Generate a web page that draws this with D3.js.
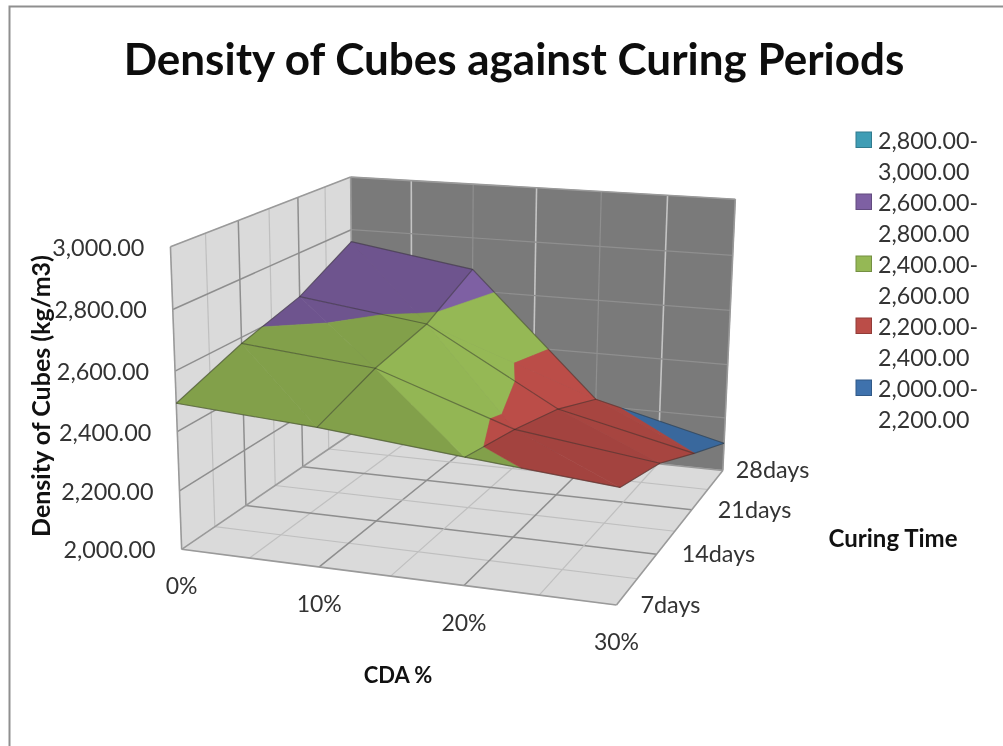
<!DOCTYPE html>
<html><head><meta charset="utf-8"><script src="https://cdn.jsdelivr.net/npm/d3@7"></script>
<style>html,body{margin:0;padding:0;background:#fff}svg{display:block;font-family:Lato,"Open Sans",sans-serif;filter:blur(.55px)}</style></head>
<body><svg id="c" width="1003" height="746"></svg>
<script>
const cdaLabels=["0%","10%","20%","30%"];
const cdaValues=[0,10,20,30];
const curingLabels=["7days","14days","21days","28days"];
const curingValues=[7,14,21,28];
const densityTicks=[2000,2200,2400,2600,2800,3000];
const density7days=[2494,2462,2416,2373];
const density14days=[2579,2535,2372,2308];
const density21days=[2641,2579,2314,2203];
const density28days=[2754,2681,2225,2104];
const bandNames=["2,800.00-|3,000.00","2,600.00-|2,800.00","2,400.00-|2,600.00","2,200.00-|2,400.00","2,000.00-|2,200.00"];
const bandColors=["#3f9db5","#7e60a3","#95b855","#bb4d48","#3f72ad"];
const bandLow=[2800,2600,2400,2200,2000];
const diagonalFlipCells=["1-2"];
const grid=[density7days,density14days,density21days,density28days];

const xN=d3.scaleLinear().domain([0,30]).range([0,1]);
const yN=d3.scaleLinear().domain([7,28]).range([0,1]);
const zN=d3.scaleLinear().domain([2000,3000]).range([0,1]);
// projection anchors: box corners [u,v,w,px,py]
const anchors=[[0,0,0,182,549],[1,0,0,615,605],[0,1,0,353,433],[1,1,0,724,470],[0,0,1,170,245],[1,0,1,628,282],[0,1,1,351,178],[1,1,1,734,198]];
function solveCamera(){
  const A=[],b=[];
  anchors.forEach(([u,v,w,x,y])=>{
    A.push([u,v,w,1,0,0,0,0,-x*u,-x*v,-x*w]);b.push(x);
    A.push([0,0,0,0,u,v,w,1,-y*u,-y*v,-y*w]);b.push(y);
  });
  const n=11,M=d3.range(n).map(i=>d3.range(n+1).map(j=>j<n?d3.sum(A,r=>r[i]*r[j]):d3.sum(A,(r,k)=>r[i]*b[k])));
  for(let i=0;i<n;i++){let p=i;for(let k=i+1;k<n;k++)if(Math.abs(M[k][i])>Math.abs(M[p][i]))p=k;[M[i],M[p]]=[M[p],M[i]];
    for(let k=0;k<n;k++)if(k!==i){const f=M[k][i]/M[i][i];for(let j=i;j<=n;j++)M[k][j]-=f*M[i][j];}}
  return M.map((r,i)=>r[n]/r[i]);
}
const P=solveCamera();
function proj(u,v,w){const d=P[8]*u+P[9]*v+P[10]*w+1;return [(P[0]*u+P[1]*v+P[2]*w+P[3])/d,(P[4]*u+P[5]*v+P[6]*w+P[7])/d];}
const pt=(c,d,z)=>proj(xN(c),yN(d),zN(z));

const svg=d3.select("#c");
const line=d3.line();
svg.append("path").attr("d","M9.5,746V6.5H1003").attr("fill","none").attr("stroke","#8f8f8f").attr("stroke-width",2);
const poly=(pts,fill)=>svg.append("path").attr("d",line(pts)+"Z").attr("fill",fill).attr("stroke",fill).attr("stroke-width",.6).attr("stroke-linejoin","round");
poly([proj(0,0,0),proj(0,1,0),proj(0,1,1),proj(0,0,1)],"#dadada");
poly([proj(0,1,0),proj(1,1,0),proj(1,1,1),proj(0,1,1)],"#7a7a7a");
poly([proj(0,0,0),proj(1,0,0),proj(1,1,0),proj(0,1,0)],"#dadada");
const seg=(a,b,col,w)=>svg.append("path").attr("d",line([a,b])).attr("stroke",col).attr("stroke-width",w).attr("fill","none");
const sixths=d3.range(1,6).map(k=>k/6);
sixths.forEach((t,k)=>{const major=k%2===1;
  seg(proj(t,0,0),proj(t,1,0),major?"#8e8e8e":"#bfbfbf",major?1.5:1.2);
  seg(proj(0,t,0),proj(1,t,0),major?"#8e8e8e":"#bfbfbf",major?1.5:1.2);
  seg(proj(0,t,0),proj(0,t,1),major?"#8e8e8e":"#bfbfbf",major?1.5:1.2);
  seg(proj(t,1,0),proj(t,1,1),major?"#8f8f8f":"#c4c4c4",major?1.2:1.6);
});
densityTicks.slice(1,-1).forEach(z=>{const w=zN(z);
  seg(proj(0,0,w),proj(0,1,w),"#8e8e8e",1.5);
  seg(proj(0,1,w),proj(1,1,w),"#8f8f8f",1.2);
});
[[[0,0,0],[1,0,0]],[[0,0,0],[0,1,0]],[[1,0,0],[1,1,0]],[[0,1,0],[1,1,0]],[[0,0,0],[0,0,1]],[[0,0,1],[0,1,1]],[[0,1,1],[1,1,1]],[[1,1,1],[1,1,0]],[[0,1,0],[0,1,1]]]
 .forEach(([a,b])=>seg(proj(...a),proj(...b),"#9a9a9a",1.6));

// surface
function clip(tri,lo,hi){
  const cut=(pts,keep,lev)=>{const o=[];pts.forEach((p,i)=>{const q=pts[(i+1)%pts.length];const kp=keep(p[2]),kq=keep(q[2]);
    if(kp)o.push(p);if(kp!==kq){const t=(lev-p[2])/(q[2]-p[2]);o.push([p[0]+t*(q[0]-p[0]),p[1]+t*(q[1]-p[1]),lev]);}});return o;};
  let r=cut(tri,z=>z>=lo,lo);if(r.length)r=cut(r,z=>z<=hi,hi);return r;
}
const shade=d3.scaleLinear().domain([100,170]).range([.87,1]).clamp(true);
for(let j=curingValues.length-2;j>=0;j--)for(let i=0;i<cdaValues.length-1;i++){
  const V=(a,b)=>[cdaValues[a],curingValues[b],grid[b][a]];
  const flip=diagonalFlipCells.includes(i+"-"+j)||(i===1&&j===2);
  const tris=flip?[[V(i,j),V(i+1,j),V(i+1,j+1)],[V(i,j),V(i+1,j+1),V(i,j+1)]]:[[V(i,j),V(i+1,j),V(i,j+1)],[V(i+1,j),V(i+1,j+1),V(i,j+1)]];
  tris.forEach(t=>{
    const [a,b,c]=t;const ux=(b[0]-a[0])/10,uy=(b[1]-a[1])/7,uz=b[2]-a[2],vx=(c[0]-a[0])/10,vy=(c[1]-a[1])/7,vz=c[2]-a[2];
    const nx=uy*vz-uz*vy,nz=ux*vy-uy*vx;const drop=nx/nz;
    const f=shade(Math.abs(drop));
    bandLow.forEach((lo,k)=>{const r=clip(t,lo,lo+200);if(r.length>2){const col=d3.rgb(bandColors[k]);
      poly(r.map(p=>pt(p[0],p[1],p[2])),d3.rgb(col.r*f,col.g*f,col.b*f).formatHex());}});
  });
}
const gridStroke="rgba(45,45,40,.45)";
curingValues.forEach((d,j)=>svg.append("path").attr("d",line(cdaValues.map((c,i)=>pt(c,d,grid[j][i])))).attr("fill","none").attr("stroke",gridStroke).attr("stroke-width",1.2));
cdaValues.forEach((c,i)=>svg.append("path").attr("d",line(curingValues.map((d,j)=>pt(c,d,grid[j][i])))).attr("fill","none").attr("stroke",gridStroke).attr("stroke-width",1.2));

// text
const txt=(x,y,s,size,opt={})=>svg.append("text").attr("x",x).attr("y",y).attr("font-size",size).attr("fill",opt.fill||"#333").attr("font-weight",opt.w||400).attr("text-anchor",opt.a||"start").attr("dominant-baseline","central").text(s);
txt(514,58,"Density of Cubes against Curing Periods",44,{a:"middle",w:700,fill:"#0d0d0d"});
const fmt=d3.format(",.2f");
densityTicks.forEach(z=>{const p=proj(0,0,zN(z));txt(p[0]-26,p[1],fmt(z),23.4,{a:"end"});});
cdaValues.forEach((c,i)=>{const p=proj(xN(c),0,0);txt(p[0],p[1]+36,cdaLabels[i],23,{a:"middle"});});
const depthDx=[24,25,26,13];
curingValues.forEach((d,j)=>{const p=proj(1,yN(d),0);txt(p[0]+depthDx[j],p[1]-1,curingLabels[j],23.4);});
txt(398,674,"CDA %",22,{a:"middle",w:700,fill:"#111"});
txt(893,537,"Curing Time",24,{a:"middle",w:700,fill:"#111"});
svg.append("text").attr("transform","translate(40,396) rotate(-90)").attr("text-anchor","middle").attr("dominant-baseline","central").attr("font-size",25).attr("font-weight",700).attr("fill","#111").text("Density of Cubes (kg/m3)");
bandNames.forEach((n,k)=>{const y=d3.scaleLinear().domain([0,1]).range([140,171])(k*2);
  const c=d3.rgb(bandColors[k]);
  svg.append("rect").attr("x",856).attr("y",y-8).attr("width",15.5).attr("height",15.5).attr("fill",bandColors[k]).attr("stroke",c.darker(.7)).attr("stroke-width",1);
  n.split("|").forEach((s,m)=>txt(878,y+m*31.3,s,23.2));
});
</script></body></html>
